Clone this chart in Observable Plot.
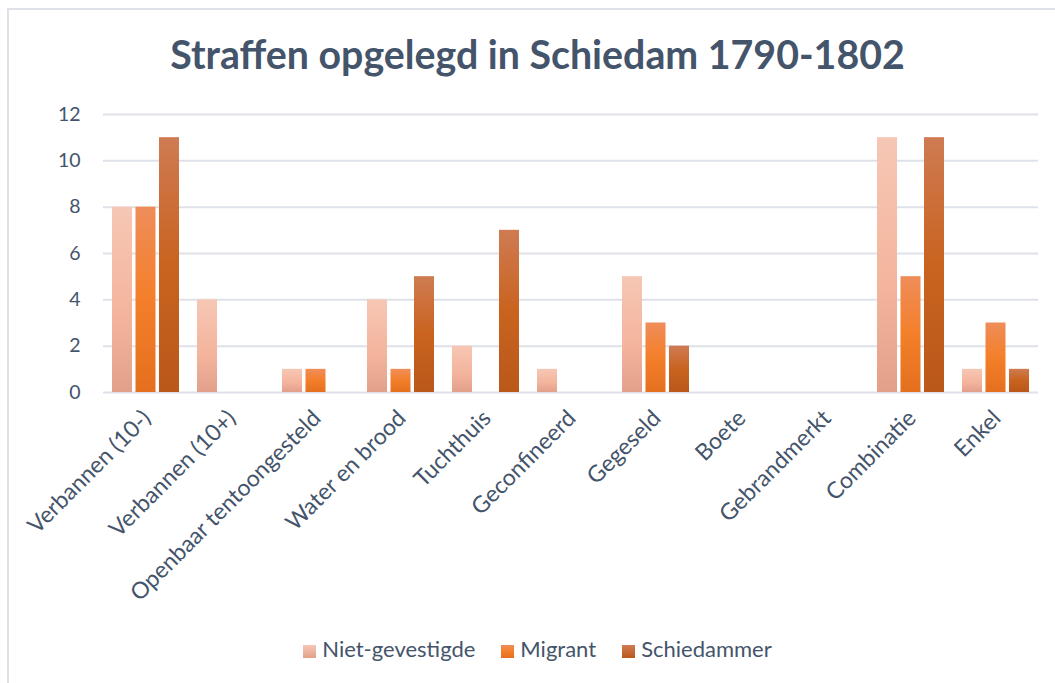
<!DOCTYPE html>
<html>
<head>
<meta charset="utf-8">
<script src="https://cdn.jsdelivr.net/npm/d3@7"></script>
<script src="https://cdn.jsdelivr.net/npm/@observablehq/plot@0.6"></script>
<style>
  html, body { margin: 0; padding: 0; background: #fff; }
  #chart { position: relative; width: 1055px; height: 683px; overflow: hidden; font-family: Lato, "Open Sans", sans-serif; color: #44546A; }
  #frame { position: absolute; left: 7px; top: 8px; width: 1060px; height: 700px; border-left: 2px solid #DEE2E8; border-top: 2px solid #DEE2E8; box-sizing: border-box; }
  #title { position: absolute; left: 0; width: 1075px; top: 30px; text-align: center; font-weight: bold; font-size: 39.3px; line-height: 48px; color: #44546A; }
  #plot { position: absolute; left: 0; top: 0; }
  #legend { position: absolute; top: 636px; left: 0; width: 1075px; text-align: center; font-size: 22px; line-height: 26px; }
  .item { display: inline-block; margin: 0 13px; white-space: nowrap; }
  .sw { display: inline-block; width: 13px; height: 13px; margin-right: 6px; vertical-align: -1px; }
</style>
</head>
<body>
<div id="chart">
  <div id="frame"></div>
  <div id="title">Straffen opgelegd in Schiedam 1790-1802</div>
  <div id="plot"></div>
  <div id="legend"></div>
</div>
<svg width="0" height="0" style="position:absolute">
  <defs>
    <linearGradient id="g0" x1="0" y1="0" x2="0" y2="1">
      <stop offset="0" stop-color="#F6C7B5"/>
      <stop offset="0.6" stop-color="#F4B49C"/>
      <stop offset="1" stop-color="#E2A08A"/>
    </linearGradient>
    <linearGradient id="g1" x1="0" y1="0" x2="0" y2="1">
      <stop offset="0" stop-color="#EF8D5A"/>
      <stop offset="0.5" stop-color="#F47F2A"/>
      <stop offset="1" stop-color="#E46F1E"/>
    </linearGradient>
    <linearGradient id="g2" x1="0" y1="0" x2="0" y2="1">
      <stop offset="0" stop-color="#CF7B53"/>
      <stop offset="0.5" stop-color="#C9631F"/>
      <stop offset="1" stop-color="#BA581A"/>
    </linearGradient>
  </defs>
</svg>
<script>
const categories = ["Verbannen (10-)", "Verbannen (10+)", "Openbaar tentoongesteld", "Water en brood", "Tuchthuis", "Geconfineerd", "Gegeseld", "Boete", "Gebrandmerkt", "Combinatie", "Enkel"];
const series = ["Niet-gevestigde", "Migrant", "Schiedammer"];
const nietGevestigde = [8, 4, 1, 4, 2, 1, 5, 0, 0, 11, 1];
const migrant =        [8, 0, 1, 1, 0, 0, 3, 0, 0, 5, 3];
const schiedammer =    [11, 0, 0, 5, 7, 0, 2, 0, 0, 11, 1];
const yTicks = [0, 2, 4, 6, 8, 10, 12];

const values = [nietGevestigde, migrant, schiedammer];
const fills = ["url(#g0)", "url(#g1)", "url(#g2)"];
const swatch = ["linear-gradient(#F6C7B5, #E2A08A)", "linear-gradient(#EF8D5A, #F47F2A, #E46F1E)", "linear-gradient(#CF7B53, #BA581A)"];

const tables = values.map(v => categories.map((c, i) => ({category: c, value: v[i]})).filter(d => d.value > 0));

const bandStep = 935 / categories.length;
const barW = 20;
const inset = (bandStep - barW) / 2;
const offsets = [-23.5, 0, 23.5];

const plot = Plot.plot({
  width: 1055,
  height: 620,
  marginTop: 114,
  marginBottom: 228,
  marginLeft: 103,
  marginRight: 17,
  style: {fontFamily: "Lato, 'Open Sans', sans-serif", fontSize: "19px", color: "#44546A", background: "transparent"},
  x: {domain: categories, padding: 0, label: null},
  y: {domain: [0, 12], label: null},
  marks: [
    Plot.ruleY(yTicks, {stroke: "#DEE2E8", strokeWidth: 2}),
    ...tables.map((t, k) => Plot.barY(t, {
      x: "category", y: "value", fill: fills[k],
      insetLeft: inset, insetRight: inset, dx: offsets[k]
    })),
    Plot.axisY({ticks: yTicks, tickSize: 0, tickPadding: 23, label: null, fontSize: 19.5}),
    Plot.axisX({tickSize: 0, tickPadding: 15, tickRotate: -45, label: null, fontSize: 23, dx: 1, dy: 7})
  ]
});
document.getElementById("plot").appendChild(plot);

const legend = document.getElementById("legend");
series.forEach((s, k) => {
  const item = document.createElement("span");
  item.className = "item";
  const sw = document.createElement("span");
  sw.className = "sw";
  sw.style.background = swatch[k];
  item.appendChild(sw);
  item.appendChild(document.createTextNode(s));
  legend.appendChild(item);
});
</script>
</body>
</html>
